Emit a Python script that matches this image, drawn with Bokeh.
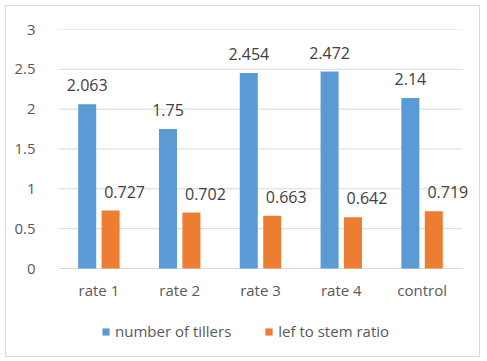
from bokeh.plotting import figure
from bokeh.models import ColumnDataSource, FixedTicker, Legend, LegendItem, LabelSet, Range1d
from bokeh.transform import dodge
from bokeh.core.properties import value
from bokeh.embed import file_html
from bokeh.resources import INLINE

categories = ["rate 1", "rate 2", "rate 3", "rate 4", "control"]
tillers = [2.063, 1.75, 2.454, 2.472, 2.14]
ratio = [0.727, 0.702, 0.663, 0.642, 0.719]
series_names = ["number of tillers", "lef to stem ratio"]
y_ticks = [0, 0.5, 1, 1.5, 2, 2.5, 3]
y_tick_labels = ["0", "0.5", "1", "1.5", "2", "2.5", "3"]

FONT = "Open Sans"
BLUE = "#5B9BD5"
ORANGE = "#ED7D31"
GRID = "#d9d9d9"

# layout (pixels)
W, H = 475, 352
LEFT, TOP = 52, 23
BAND_PX = 80.8            # width of one category band
PLOT_H, BOTTOM_AREA = 239, 90
n = len(categories)
x_start = -0.5
x_end = x_start + (W - LEFT) / BAND_PX   # extra room on the right for the last label
y_max = 3
y_min = -y_max * BOTTOM_AREA / PLOT_H

idx = list(range(n))
src = ColumnDataSource(dict(
    idx=idx,
    cat=categories,
    tillers=tillers,
    ratio=ratio,
    tillers_txt=[f"{v:g}" for v in tillers],
    ratio_txt=[f"{v:g}" for v in ratio],
    zero=[0] * n,
))
grid_src = ColumnDataSource(dict(
    y=y_ticks,
    x0=[x_start] * len(y_ticks),
    x1=[n - 0.5] * len(y_ticks),
))

p = figure(
    width=W, height=H,
    x_range=Range1d(x_start, x_end),
    y_range=Range1d(y_min, y_max),
    x_axis_location=None,
    output_backend="svg", toolbar_location=None,
    min_border_left=LEFT, min_border_right=0, min_border_top=TOP, min_border_bottom=0,
)
p.styles = {"border": "1px solid #d9d9d9", "margin-left": "5px", "margin-top": "5px"}
p.outline_line_color = None
p.background_fill_color = "white"
p.xgrid.grid_line_color = None
p.ygrid.grid_line_color = None

# horizontal gridlines across the category bands
p.segment(x0="x0", x1="x1", y0="y", y1="y", source=grid_src, line_color=GRID, line_width=1)

off = 0.145
w = 0.223
r1 = p.vbar(x=dodge("idx", -off), top="tillers", width=w, source=src,
            fill_color=BLUE, line_color=None)
r2 = p.vbar(x=dodge("idx", off), top="ratio", width=w, source=src,
            fill_color=ORANGE, line_color=None)

lab1 = LabelSet(x=dodge("idx", -off), y="tillers", text="tillers_txt", source=src,
                text_font=value(FONT), text_font_size="16px", text_color="#404040",
                text_align="center", text_baseline="middle", y_offset=19)
lab2 = LabelSet(x=dodge("idx", off), y="ratio", text="ratio_txt", source=src,
                text_font=value(FONT), text_font_size="16px", text_color="#404040",
                text_align="center", text_baseline="middle", y_offset=19, x_offset=14)
cat_labels = LabelSet(x="idx", y="zero", text="cat", source=src,
                      text_font=value(FONT), text_font_size="15px", text_color="#595959",
                      text_align="center", text_baseline="middle", y_offset=-21)
p.add_layout(lab1)
p.add_layout(lab2)
p.add_layout(cat_labels)

# value axis
p.yaxis.ticker = FixedTicker(ticks=y_ticks)
p.yaxis.major_label_overrides = {t: l for t, l in zip(y_ticks, y_tick_labels)}
p.yaxis.axis_line_color = None
p.yaxis.major_tick_line_color = None
p.yaxis.minor_tick_line_color = None
p.yaxis.major_label_text_font = FONT
p.yaxis.major_label_text_font_size = "15px"
p.yaxis.major_label_text_color = "#595959"
p.yaxis.major_label_standoff = 17

legend = Legend(
    items=[LegendItem(label=series_names[0], renderers=[r1]),
           LegendItem(label=series_names[1], renderers=[r2])],
    orientation="horizontal", location=(43, 17),
    glyph_width=9, glyph_height=9, label_standoff=5, spacing=33,
    padding=0, margin=0, border_line_color=None, background_fill_alpha=0,
    label_text_font=FONT, label_text_font_size="15px", label_text_color="#595959",
    label_height=20,
)
p.add_layout(legend, "center")

open("out.html", "w").write(file_html(p, INLINE))
